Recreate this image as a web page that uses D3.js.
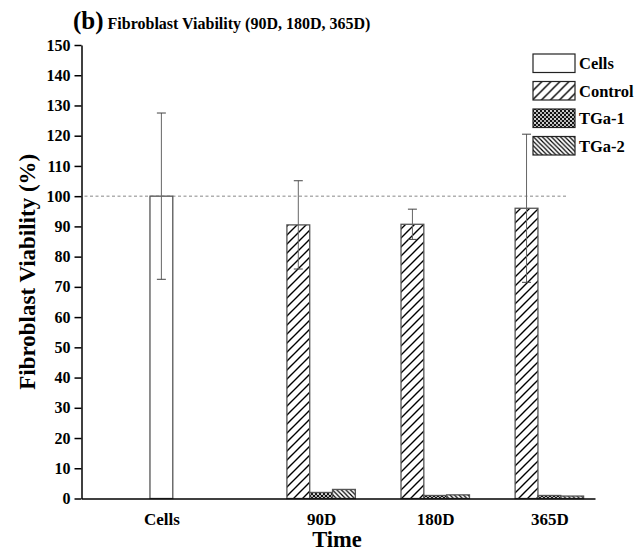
<!DOCTYPE html>
<html>
<head>
<meta charset="utf-8">
<script src="https://cdn.jsdelivr.net/npm/d3@7"></script>
<style>
  html, body { margin: 0; padding: 0; background: #fff; }
  svg { display: block; font-family: "Liberation Serif", "Times New Roman", serif; }
</style>
</head>
<body>
<svg id="chart" width="644" height="551"></svg>
<script>
// ---- data ----
const categories = ["Cells", "90D", "180D", "365D"];
const seriesNames = ["Cells", "Control", "TGa-1", "TGa-2"];
const cellsValues = [100];
const cellsErrors = [27.5];
const timeCategories = ["90D", "180D", "365D"];
const controlValues = [90.5, 90.7, 96.0];
const controlErrors = [14.6, 5.0, 24.5];
const tga1Values = [2.0, 1.0, 1.0];
const tga2Values = [3.0, 1.2, 0.8];
const yTicks = [0, 10, 20, 30, 40, 50, 60, 70, 80, 90, 100, 110, 120, 130, 140, 150];
const referenceLine = 100;

// ---- layout ----
const svg = d3.select("#chart");
const pLeft = 81.5, pRight = 595, pTop = 45, pBottom = 498.5;

// slot scale: each bar occupies one slot
const x = d3.scaleLinear().domain([0, 22.5]).range([pLeft, pRight]);
const y = d3.scaleLinear().domain([0, 150]).range([pBottom, pTop]);
const bw = x(1) - x(0);

// group starting slot per category (layout, not data)
const groupStart = { "Cells": 3, "90D": 9, "180D": 14, "365D": 19 };
const groupSize = { "Cells": 1, "90D": 3, "180D": 3, "365D": 3 };
const centerSlot = c => groupStart[c] + groupSize[c] / 2;

// ---- patterns ----
const defs = svg.append("defs");
// Control: forward slashes
const pCtrl = defs.append("pattern").attr("id", "pCtrl").attr("patternUnits", "userSpaceOnUse")
  .attr("width", 9).attr("height", 9);
pCtrl.append("rect").attr("width", 9).attr("height", 9).attr("fill", "#fff");
pCtrl.append("path").attr("d", "M-1,1 L1,-1 M0,9 L9,0 M8,10 L10,8")
  .attr("stroke", "#000").attr("stroke-width", 1.4);
// TGa-2: dense back slashes
const pT2 = defs.append("pattern").attr("id", "pT2").attr("patternUnits", "userSpaceOnUse")
  .attr("width", 4.5).attr("height", 4.5);
pT2.append("rect").attr("width", 4.5).attr("height", 4.5).attr("fill", "#fff");
pT2.append("path").attr("d", "M-1,3.5 L1,5.5 M0,0 L4.5,4.5 M3.5,-1 L5.5,1")
  .attr("stroke", "#000").attr("stroke-width", 1.2);
// TGa-1: dense crosshatch
const pT1 = defs.append("pattern").attr("id", "pT1").attr("patternUnits", "userSpaceOnUse")
  .attr("width", 4).attr("height", 4);
pT1.append("rect").attr("width", 4).attr("height", 4).attr("fill", "#111");
pT1.append("circle").attr("cx", 2).attr("cy", 2).attr("r", 1.1).attr("fill", "#fff");
pT1.append("circle").attr("cx", 0).attr("cy", 0).attr("r", 0.9).attr("fill", "#fff");
pT1.append("circle").attr("cx", 4).attr("cy", 0).attr("r", 0.9).attr("fill", "#fff");
pT1.append("circle").attr("cx", 0).attr("cy", 4).attr("r", 0.9).attr("fill", "#fff");
pT1.append("circle").attr("cx", 4).attr("cy", 4).attr("r", 0.9).attr("fill", "#fff");

const fills = { "Cells": "#fff", "Control": "url(#pCtrl)", "TGa-1": "url(#pT1)", "TGa-2": "url(#pT2)" };

// ---- reference dashed line ----
svg.append("line")
  .attr("x1", pLeft + 3).attr("x2", 567)
  .attr("y1", y(referenceLine)).attr("y2", y(referenceLine))
  .attr("stroke", "#888").attr("stroke-width", 1).attr("stroke-dasharray", "3,2.5");

// ---- bars ----
const bars = [];
cellsValues.forEach((v, i) => bars.push({ cat: "Cells", series: "Cells", slot: groupStart["Cells"], value: v, err: cellsErrors[i] }));
timeCategories.forEach((c, i) => {
  bars.push({ cat: c, series: "Control", slot: groupStart[c], value: controlValues[i], err: controlErrors[i] });
  bars.push({ cat: c, series: "TGa-1", slot: groupStart[c] + 1, value: tga1Values[i], err: null });
  bars.push({ cat: c, series: "TGa-2", slot: groupStart[c] + 2, value: tga2Values[i], err: null });
});

const g = svg.append("g");
g.selectAll("rect.bar").data(bars).join("rect")
  .attr("class", "bar")
  .attr("x", d => x(d.slot))
  .attr("width", bw)
  .attr("y", d => y(d.value))
  .attr("height", d => y(0) - y(d.value))
  .attr("fill", d => fills[d.series])
  .attr("stroke", "#555").attr("stroke-width", 1.3);

// error bars
const eb = g.selectAll("g.err").data(bars.filter(d => d.err != null)).join("g").attr("class", "err");
eb.append("line")
  .attr("x1", d => x(d.slot + 0.5)).attr("x2", d => x(d.slot + 0.5))
  .attr("y1", d => y(d.value + d.err)).attr("y2", d => y(d.value - d.err))
  .attr("stroke", "#666").attr("stroke-width", 1);
eb.append("line")
  .attr("x1", d => x(d.slot + 0.5) - 4.5).attr("x2", d => x(d.slot + 0.5) + 4.5)
  .attr("y1", d => y(d.value + d.err)).attr("y2", d => y(d.value + d.err))
  .attr("stroke", "#444").attr("stroke-width", 1);
eb.append("line")
  .attr("x1", d => x(d.slot + 0.5) - 4.5).attr("x2", d => x(d.slot + 0.5) + 4.5)
  .attr("y1", d => y(d.value - d.err)).attr("y2", d => y(d.value - d.err))
  .attr("stroke", "#444").attr("stroke-width", 1);

// ---- axes ----
const yAxis = svg.append("g").attr("transform", `translate(${pLeft},0)`)
  .call(d3.axisLeft(y).tickValues(yTicks).tickSize(7).tickPadding(4).tickSizeOuter(0));
yAxis.select(".domain").attr("stroke", "#000").attr("stroke-width", 1.5);
yAxis.selectAll(".tick line").attr("stroke", "#000").attr("stroke-width", 1.5);
yAxis.selectAll(".tick text")
  .attr("font-family", "Liberation Serif").attr("font-weight", "bold").attr("font-size", 16).attr("fill", "#000");

const xAxis = svg.append("g").attr("transform", `translate(0,${pBottom})`)
  .call(d3.axisBottom(x).tickValues(categories.map(centerSlot)).tickFormat((d, i) => categories[i]).tickSize(0).tickPadding(14).tickSizeOuter(0));
xAxis.select(".domain").attr("stroke", "#000").attr("stroke-width", 1.5);
xAxis.selectAll(".tick text")
  .attr("font-family", "Liberation Serif").attr("font-weight", "bold").attr("font-size", 17).attr("fill", "#000");

// ---- axis titles ----
svg.append("text")
  .attr("x", 337).attr("y", 547)
  .attr("text-anchor", "middle")
  .attr("font-weight", "bold").attr("font-size", 22.5)
  .text("Time");

svg.append("text")
  .attr("transform", `translate(35,${(pTop + pBottom) / 2}) rotate(-90)`)
  .attr("text-anchor", "middle")
  .attr("font-weight", "bold").attr("font-size", 23)
  .text("Fibroblast Viability (%)");

// ---- title ----
const title = svg.append("text").attr("x", 73).attr("y", 29).attr("font-weight", "bold");
title.append("tspan").attr("font-size", 25).text("(b)");
title.append("tspan").attr("font-size", 16).attr("dx", 4).text("Fibroblast Viability (90D, 180D, 365D)");

// ---- legend ----
const legend = svg.append("g").attr("transform", "translate(533,54)");
const li = legend.selectAll("g").data(seriesNames).join("g")
  .attr("transform", (d, i) => `translate(0,${i * 27.5})`);
li.append("rect").attr("width", 42).attr("height", 18.5)
  .attr("fill", d => fills[d]).attr("stroke", "#222").attr("stroke-width", 1.2);
li.append("text").attr("x", 46).attr("y", 15)
  .attr("font-weight", "bold").attr("font-size", 16.5)
  .text(d => d);
</script>
</body>
</html>
